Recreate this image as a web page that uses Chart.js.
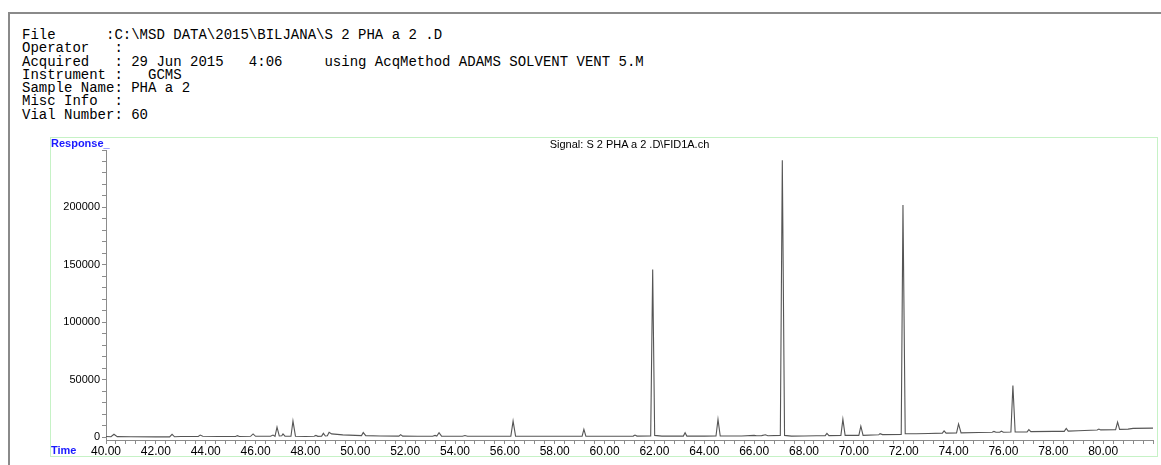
<!DOCTYPE html>
<html lang="en">
<head>
<meta charset="UTF-8">
<title>Chromatogram</title>
<script src="https://cdn.jsdelivr.net/npm/chart.js"></script>
<style>
  html, body { margin: 0; padding: 0; background: #fff; }
  body { width: 1161px; height: 465px; position: relative; overflow: hidden; }
  .frame { position: absolute; left: 8px; top: 12px; width: 1160px; height: 460px;
           border-left: 2px solid #8a8a8a; border-top: 2px solid #8a8a8a; }
  pre.info { position: absolute; left: 22px; top: 29px; margin: 0;
             font-family: "Liberation Mono", monospace; font-size: 14px; line-height: 13.3px; color: #000; }
  .box { position: absolute; left: 50px; top: 137px; width: 1106px; height: 318px;
         border: 1px solid #c6f2c6; }
  .lbl { position: absolute; font-family: "Liberation Sans", Arial, sans-serif; font-size: 11px; }
  .blue { color: #1a1aff; font-weight: bold; }
  #wrap { position: absolute; left: 50px; top: 137px; width: 1107px; height: 319px; }
</style>
</head>
<body>
<div class="frame"></div>
<pre class="info">File      :C:\MSD DATA\2015\BILJANA\S 2 PHA a 2 .D
Operator   :
Acquired   : 29 Jun 2015   4:06     using AcqMethod ADAMS SOLVENT VENT 5.M
Instrument :   GCMS
Sample Name: PHA a 2
Misc Info  :
Vial Number: 60</pre>
<div class="box"></div>
<div id="wrap"><canvas id="myChart"></canvas></div>
<div class="lbl blue" style="left:51px; top:137px;">Response_</div>
<div class="lbl blue" style="left:51px; top:444px;">Time</div>
<div class="lbl" style="left:106px; width:1047px; top:138px; text-align:center;">Signal: S 2 PHA a 2 .D\FID1A.ch</div>

<script>
    // retention time (min) and detector response
    var times = [
        40.00, 40.20, 40.32, 40.45, 41.00, 42.00, 42.55, 42.65, 42.75, 43.00,
        43.70, 43.78, 43.88, 44.50, 45.20, 45.27, 45.35, 45.80, 45.90, 46.00,
        46.60, 46.70, 46.78, 46.86, 46.95, 47.05, 47.10, 47.18, 47.42, 47.50,
        47.60, 48.00, 48.35, 48.42, 48.50, 48.65, 48.72, 48.80, 48.88, 48.95,
        49.05, 49.50, 50.00, 50.25, 50.32, 50.42, 51.00, 51.75, 51.82, 51.90,
        52.50, 53.10, 53.20, 53.27, 53.36, 53.46, 54.30, 54.40, 54.50, 55.50,
        56.24, 56.33, 56.43, 57.50, 58.50, 59.10, 59.17, 59.25, 60.00, 61.15,
        61.22, 61.30, 61.85, 61.93, 62.01, 62.30, 63.16, 63.23, 63.30, 64.00,
        64.47, 64.55, 64.64, 65.50, 66.00, 66.10, 66.30, 66.45, 66.55, 67.05,
        67.13, 67.22, 67.50, 68.00, 68.50, 68.85, 68.92, 69.00, 69.48, 69.56,
        69.65, 70.20, 70.28, 70.37, 71.00, 71.05, 71.15, 71.90, 71.97, 72.06,
        72.50, 73.00, 73.55, 73.62, 73.70, 74.12, 74.20, 74.30, 75.00, 75.55,
        75.62, 75.70, 75.85, 75.92, 76.00, 76.30, 76.38, 76.47, 76.95, 77.02,
        77.10, 78.00, 78.44, 78.52, 78.60, 79.00, 79.76, 79.83, 79.90, 80.50,
        80.58, 80.66, 81.00, 81.20, 82.00
    ];
    var response = [
        500, 300, 2500, 400, 300, 200, 200, 2500, 300, 500,
        600, 1800, 700, 600, 500, 1300, 500, 700, 2800, 700,
        700, 1800, 700, 8700, 1000, 1200, 2800, 800, 800, 14000,
        800, 600, 700, 1500, 700, 900, 3300, 1000, 1200, 4200,
        2800, 2000, 1500, 1300, 4000, 1300, 1000, 900, 2200, 900,
        800, 800, 1500, 900, 3800, 900, 800, 1400, 800, 800,
        900, 14000, 900, 800, 800, 900, 6800, 900, 800, 900,
        1800, 900, 1000, 146000, 1500, 900, 900, 3800, 900, 900,
        1000, 15500, 1000, 1000, 1500, 1200, 1300, 2000, 1200, 1500,
        241000, 1500, 900, 1000, 1200, 1300, 3300, 1300, 1500, 15500,
        1500, 1500, 9500, 1500, 2000, 3000, 2200, 2400, 202000, 3000,
        3000, 3200, 3500, 5500, 3500, 3700, 11500, 3700, 4000, 4200,
        5000, 4200, 4300, 5200, 4300, 4500, 45000, 4500, 4600, 6500,
        4800, 5000, 5000, 7500, 5200, 5600, 6200, 7000, 6300, 6500,
        13000, 6800, 7000, 7600, 7800
    ];
    var timeMin = 40, timeMax = 82, timeStep = 0.4, lastTimeLabel = 80;
    var respMax = 250000, respStep = 10000, respLabelEvery = 50000;

    var points = [];
    for (var i = 0; i < times.length; i++) {
        points.push({ x: times[i], y: response[i] });
    }

    var axisGray = '#8c8c8c';
    var fontFamily = 'Liberation Sans, Arial, sans-serif';

    new Chart(document.getElementById('myChart'), {
        type: 'line',
        data: {
            datasets: [{
                data: points,
                borderColor: '#555',
                borderWidth: 1.1,
                pointRadius: 0,
                tension: 0,
                fill: false
            }]
        },
        options: {
            responsive: true,
            maintainAspectRatio: false,
            animation: false,
            layout: { padding: { top: 13, right: 4, left: 0, bottom: 0 } },
            plugins: { legend: { display: false }, tooltip: { enabled: false } },
            scales: {
                x: {
                    type: 'linear',
                    min: timeMin,
                    max: timeMax,
                    afterBuildTicks: function (axis) {
                        var t = [];
                        for (var k = 0; timeMin + k * timeStep <= timeMax + 1e-9; k++) {
                            t.push({ value: Math.round((timeMin + k * timeStep) * 10) / 10 });
                        }
                        axis.ticks = t;
                    },
                    afterFit: function (axis) { axis.height = 16; },
                    ticks: {
                        autoSkip: false,
                        maxRotation: 0,
                        padding: 0,
                        color: '#000',
                        font: { family: fontFamily, size: 12 },
                        callback: function (v) {
                            return (Math.abs(v % 2) < 1e-6 && v <= lastTimeLabel) ? v.toFixed(2) : '';
                        }
                    },
                    grid: { drawOnChartArea: false, drawTicks: true, tickLength: 4, color: axisGray },
                    border: { display: true, color: axisGray, width: 1 }
                },
                y: {
                    min: -2500,
                    max: respMax,
                    afterBuildTicks: function (axis) {
                        var t = [];
                        for (var v = 0; v <= respMax; v += respStep) t.push({ value: v });
                        axis.ticks = t;
                    },
                    afterFit: function (axis) { axis.width = 56; },
                    ticks: {
                        autoSkip: false,
                        padding: 2,
                        color: '#000',
                        font: { family: fontFamily, size: 11 },
                        callback: function (v) {
                            return (v % respLabelEvery === 0 && v < respMax) ? String(v) : '';
                        }
                    },
                    grid: { drawOnChartArea: false, drawTicks: true, tickLength: 4, color: axisGray },
                    border: { display: true, color: axisGray, width: 1 }
                }
            }
        }
    });
</script>
</body>
</html>
